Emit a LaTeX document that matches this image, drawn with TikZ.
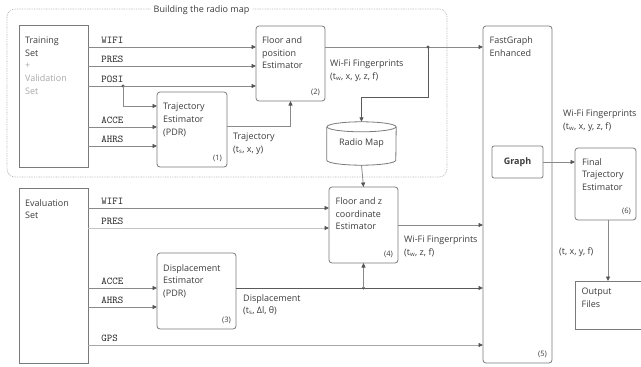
\documentclass[tikz,border=0pt]{standalone}
\usepackage{fontspec}
\setmainfont{Open Sans}
\usetikzlibrary{arrows.meta}

\definecolor{boxcol}{HTML}{7A7A7A}
\definecolor{wirecol}{HTML}{8A8A8A}
\definecolor{darkwire}{HTML}{5A5A5A}
\definecolor{lightwire}{HTML}{C4C4C4}
\definecolor{tipcol}{HTML}{555555}
\definecolor{txtcol}{HTML}{3C3C3C}
\definecolor{sigcol}{HTML}{222222}
\definecolor{lightcol}{HTML}{A8A8A8}
\definecolor{framecol}{HTML}{B4B4B4}

\tikzset{
  blk/.style={draw=boxcol, line width=0.8pt, rounded corners=3pt, anchor=north west,
              inner sep=0pt, outer sep=0pt},
  sqblk/.style={blk, rounded corners=0pt},
  txt/.style={anchor=north west, align=left, inner sep=0pt, text=txtcol,
              font=\fontsize{9}{12.7}\selectfont},
  num/.style={anchor=south east, inner sep=0pt, text=txtcol,
              font=\fontsize{7.5}{9}\selectfont, xshift=-5pt, yshift=5pt},
  sig/.style={anchor=base west, inner sep=0pt, text=sigcol,
              font=\fontsize{10.4}{11}\ttfamily, xshift=13pt, yshift=3.5pt},
  wire/.style={draw=wirecol, line width=0.8pt},
  arr/.style={wire, -{Triangle[length=4.5pt,width=4pt,color=tipcol]}},
  darkw/.style={draw=darkwire},
  lightw/.style={draw=lightwire},
  jdot/.style={circle, fill=darkwire, inner sep=0pt, minimum size=3.2pt},
  frame/.style={draw=framecol, line width=0.7pt, dash pattern=on 0.8pt off 0.9pt,
                rounded corners=8pt}
}

\begin{document}
\begin{tikzpicture}[x=1pt, y=-1pt]
\useasboundingbox (0,0) rectangle (641,367);

% dotted frame around the radio map stage
\draw[frame] (7,9) rectangle (447,177);
\node[fill=white, inner xsep=3pt, inner ysep=1pt, text=txtcol,
      font=\fontsize{9}{11}\selectfont] (frametitle) at (201.5,10) {Building the radio map};

% ---------------- blocks ----------------
\node[sqblk, minimum width=69pt, minimum height=142pt] (train) at (19,25) {};
\node[txt] (trainlbl) at ([xshift=6pt,yshift=-11.5pt]train.north west)
  {Training\\Set\\\textcolor{lightcol}{+}\\\textcolor{lightcol}{Validation}\\\textcolor{lightcol}{Set}};

\node[sqblk, minimum width=69pt, minimum height=175pt] (eval) at (19,188) {};
\node[txt] (evallbl) at ([xshift=6pt,yshift=-11pt]eval.north west) {Evaluation\\Set};

\node[blk, minimum width=70pt, minimum height=75pt] (traj) at (157,92) {};
\node[txt] (trajlbl) at ([xshift=6pt,yshift=-11pt]traj.north west) {Trajectory\\Estimator\\(PDR)};
\node[num] (trajnum) at (traj.south east) {(1)};

\node[blk, minimum width=69pt, minimum height=75pt] (fpos) at (256,26) {};
\node[txt] (fposlbl) at ([xshift=6pt,yshift=-10.3pt]fpos.north west) {Floor and\\position\\Estimator};
\node[num] (fposnum) at (fpos.south east) {(2)};

\node[blk, minimum width=79pt, minimum height=76pt] (disp) at (157,253) {};
\node[txt] (displbl) at ([xshift=6pt,yshift=-11pt]disp.north west) {Displacement\\Estimator\\(PDR)};
\node[num] (dispnum) at (disp.south east) {(3)};

\node[blk, minimum width=69pt, minimum height=76pt] (fz) at (329,187) {};
\node[txt] (fzlbl) at ([xshift=6.5pt,yshift=-10.5pt]fz.north west) {Floor and z\\coordinate\\Estimator};
\node[num] (fznum) at (fz.south east) {(4)};

\node[blk, minimum width=69pt, minimum height=337pt] (fg) at (483,26) {};
\node[txt] (fglbl) at ([xshift=6.5pt,yshift=-10.5pt]fg.north west) {FastGraph\\Enhanced};
\node[num] (fgnum) at (fg.south east) {(5)};

\node[blk, rounded corners=2pt, minimum width=51pt, minimum height=32pt] (graph) at (492,146) {};
\node[inner sep=0pt, font=\fontsize{9}{11}\selectfont\bfseries, text=txtcol] (graphlbl) at (graph.center) {Graph};

\node[blk, minimum width=61pt, minimum height=72pt] (final) at (575,148) {};
\node[txt] (finallbl) at ([xshift=7pt,yshift=-10pt]final.north west) {Final\\Trajectory\\Estimator};
\node[num] (finalnum) at (final.south east) {(6)};

\node[sqblk, minimum width=66pt, minimum height=48pt] (out) at (575,281) {};
\node[txt] (outlbl) at ([xshift=6.5pt,yshift=-7pt]out.north west) {Output\\Files};

% radio map store (cylinder drawn around a plain node)
\node[inner sep=0pt, minimum width=69pt, minimum height=43pt, text=txtcol,
      font=\fontsize{9}{11}\selectfont] (radio) at (361.5,143.5) {Radio Map};
\draw[draw=boxcol, line width=0.8pt]
  ([yshift=-5pt]radio.north west) -- ([yshift=5pt]radio.south west)
  arc[start angle=180, end angle=360, x radius=34.5pt, y radius=5pt]
  -- ([yshift=-5pt]radio.north east);
\draw[draw=boxcol, line width=0.8pt] ([yshift=-5pt]radio.north) ellipse [x radius=34.5pt, y radius=5pt];

% ---------------- signal rows ----------------
\coordinate (tW) at (0,47);
\coordinate (tP) at (0,66);
\coordinate (tO) at (0,86);
\coordinate (tA) at (0,127);
\coordinate (tH) at (0,146);
\coordinate (eW) at (0,208);
\coordinate (eP) at (0,228);
\coordinate (eZ) at (0,225);
\coordinate (eA) at (0,288);
\coordinate (eH) at (0,307);
\coordinate (eG) at (0,345);

% training + validation inputs
\draw[arr] (train.east |- tW) node[sig] (s1) {WIFI} -- (fpos.west |- tW);
\draw[arr] (train.east |- tP) node[sig] (s2) {PRES} -- (fpos.west |- tP);
\draw[arr] (train.east |- tO) node[sig] (s3) {POSI} -- (fpos.west |- tO);
\draw[arr] (train.east |- tA) node[sig] (s4) {ACCE} -- (traj.west |- tA);
\draw[arr] (train.east |- tH) node[sig] (s5) {AHRS} -- (traj.west |- tH);
\node[jdot] (dposi) at (123,86) {};
\draw[arr] (dposi.center) |- ([yshift=-14pt]traj.north west);

% trajectory into the floor/position estimator
\draw[arr] ([yshift=-34.5pt]traj.north east) -| (fpos.south);
\node[txt] (trajout) at (233,132.5) {Trajectory\\(t\textsubscript{s}, x, y)};

% fingerprints to FastGraph and to the radio map
\draw[arr] (fpos.east |- tW) -- (fg.west |- tW);
\node[jdot] (dwifi) at (428,47) {};
\draw[arr, darkw] (dwifi.center) -- ++(0,50) -| (radio.north);
\node[txt] (fposout) at (330,59.5) {Wi-Fi Fingerprints\\(t\textsubscript{w}, x, y, z, f)};
\draw[arr] (radio.south) -- (fz.north);

% evaluation inputs
\draw[arr] (eval.east |- eW) node[sig] (s6) {WIFI} -- (fz.west |- eW);
\draw[arr, lightw] (eval.east |- eP) node[sig] (s7) {PRES} -- (fz.west |- eP);
\draw[arr] (eval.east |- eA) node[sig] (s8) {ACCE} -- (disp.west |- eA);
\draw[arr] (eval.east |- eH) node[sig] (s9) {AHRS} -- (disp.west |- eH);
\draw[arr, draw=lightcol] (eval.east |- eG) node[sig] (s10) {GPS} -- (fg.west |- eG);

% displacement output
\draw[arr, darkw] (disp.east |- eA) -- (fg.west |- eA);
\node[jdot] (ddisp) at (fz.south |- eA) {};
\draw[arr] (ddisp.center) -- (fz.south);
\node[txt] (dispout) at (243,294) {Displacement\\(t\textsubscript{s}, Δl, θ)};

% floor and z output
\draw[arr] (fz.east |- eZ) -- (fg.west |- eZ);
\node[txt] (fzout) at (404,236) {Wi-Fi Fingerprints\\(t\textsubscript{w}, z, f)};

% graph to final estimator and output
\draw[arr] (graph.east) -- (final.west |- graph.east);
\node[txt] (graphout) at (563,110) {Wi-Fi Fingerprints\\(t\textsubscript{w}, x, y, z, f)};
\draw[arr] (final.south -| out.north) -- (out.north);
\node[txt] (finalout) at (559,247.5) {(t, x, y, f)};
\end{tikzpicture}
\end{document}
